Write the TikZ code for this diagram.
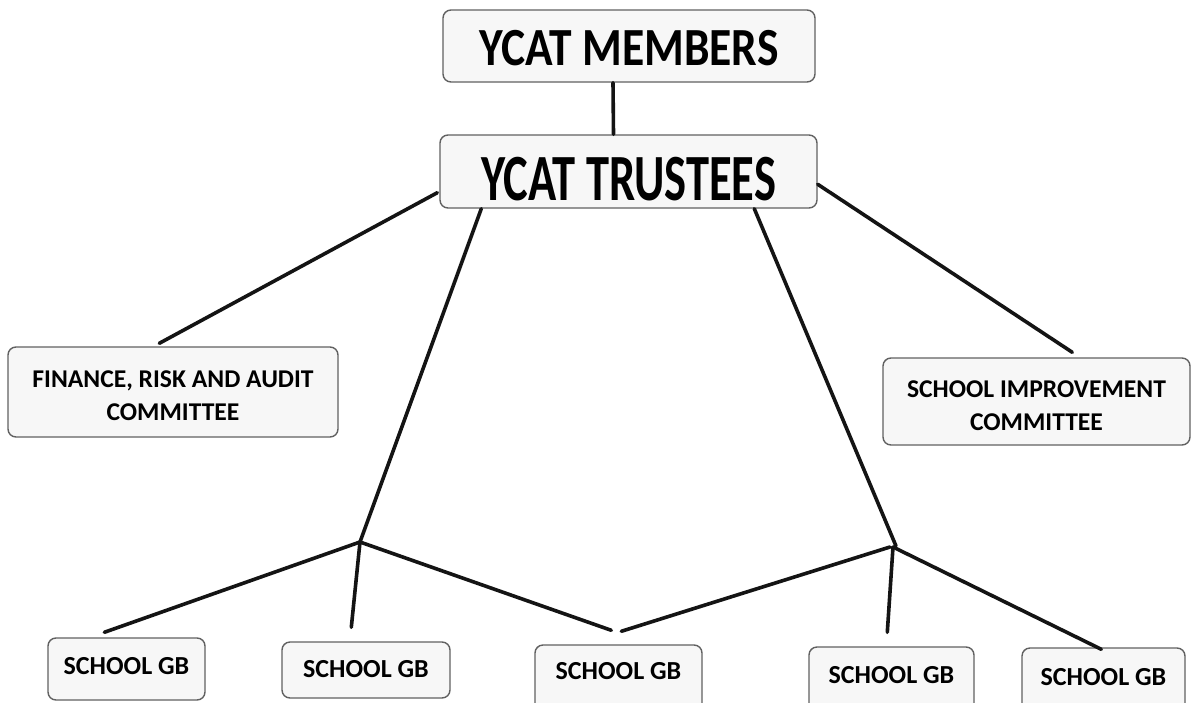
\documentclass[tikz,border=0pt]{standalone}
\usepackage{fontspec}
\setmainfont{Carlito}
\usetikzlibrary{calc}
\begin{document}
\begin{tikzpicture}[x=1pt,y=-1pt,
  box/.style={draw=black!62, line width=1.4pt, rounded corners=8pt, fill=black!3,
    inner sep=0pt, font=\bfseries, text=black},
  conn/.style={draw=black!92, line width=3.6pt, line cap=round}]
\useasboundingbox (0,0) rectangle (1192,702);
\clip (0,0) rectangle (1192,702);
\fill[white] (0,0) rectangle (1192,702);

% boxes
\node[box, minimum width=372pt, minimum height=72pt, text height=40pt, text depth=2pt,
  font=\bfseries\fontsize{45.5}{50}\selectfont] (mem) at (629,46) {\scalebox{1}[1.18]{YCAT MEMBERS}};
\node[box, minimum width=377pt, minimum height=73pt, text height=57pt, text depth=0pt,
  font=\bfseries\fontsize{46.5}{50}\selectfont] (tru) at (628.5,171.5) {\scalebox{1}[1.42]{YCAT TRUSTEES}};
\node[box, minimum width=330pt, minimum height=90pt, text height=58pt, text depth=2pt, align=center,
  font=\bfseries\fontsize{25.6}{33}\selectfont] (fin) at (173,392) {FINANCE, RISK AND AUDIT\\COMMITTEE};
\node[box, minimum width=307pt, minimum height=87pt, text height=59pt, text depth=2pt, align=center,
  font=\bfseries\fontsize{25.6}{33}\selectfont] (sic) at (1036.5,401.5) {SCHOOL IMPROVEMENT\\COMMITTEE};
\node[box, minimum width=157pt, minimum height=62pt, text height=20pt, text depth=10pt,
  font=\bfseries\fontsize{26}{30}\selectfont] (gb1) at (126.5,669) {SCHOOL GB};
\node[box, minimum width=168pt, minimum height=56pt, text height=20pt, text depth=6pt,
  font=\bfseries\fontsize{26}{30}\selectfont] (gb2) at (366,670) {SCHOOL GB};
\node[box, minimum width=167pt, minimum height=67pt, text height=20pt, text depth=19pt,
  font=\bfseries\fontsize{26}{30}\selectfont] (gb3) at (618.5,678.5) {SCHOOL GB};
\node[box, minimum width=165pt, minimum height=67pt, text height=20pt, text depth=15pt,
  font=\bfseries\fontsize{26}{30}\selectfont] (gb4) at (891.5,680.5) {SCHOOL GB};
\node[box, minimum width=163pt, minimum height=66pt, text height=20pt, text depth=12pt,
  font=\bfseries\fontsize{26}{30}\selectfont] (gb5) at (1103.5,681) {SCHOOL GB};

% junctions
\coordinate (jl) at (360,542);
\coordinate (jr) at (893,547);

% connectors
\draw[conn] ($(mem.south)+(-16,0)$) -- ($(tru.north)+(-15,0)$);
\draw[conn] ($(tru.south west)+(-2,-16)$) -- ($(fin.north west)+(152,-3)$);
\draw[conn] ($(tru.north east)+(0,50)$) -- ($(sic.north west)+(190,-5)$);
\draw[conn] ($(tru.south west)+(42,0)$) -- (jl);
\draw[conn] ($(tru.south west)+(315,0)$) -- ($(jr)+(3,-1)$);
\draw[conn] (jl) -- ($(gb1.north west)+(57,-5)$);
\draw[conn] (jl) -- ($(gb2.north west)+(70,-14)$);
\draw[conn] (jl) -- ($(gb3.north west)+(77,-14)$);
\draw[conn] ($(gb3.north west)+(87,-13)$) -- ($(jr)+(-3,0)$);
\draw[conn] (jr) -- ($(gb4.north west)+(79,-14)$);
\draw[conn] (jr) -- ($(gb5.north west)+(80,2)$);
\end{tikzpicture}
\end{document}
